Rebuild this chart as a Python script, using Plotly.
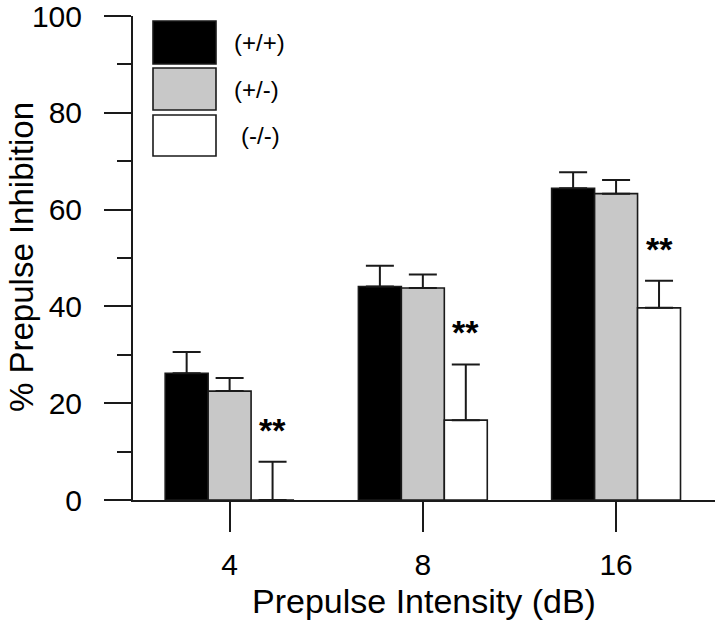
import plotly.graph_objects as go

categories = ["4", "8", "16"]
genotypes = ["(+/+)", "(+/-)", "(-/-)"]
wt_mean = [26.2, 44.1, 64.4]
wt_sem = [4.4, 4.3, 3.3]
het_mean = [22.5, 43.8, 63.3]
het_sem = [2.7, 2.8, 2.8]
ko_mean = [0.0, 16.5, 39.7]
ko_sem = [7.9, 11.5, 5.6]
sig_labels = ["**", "**", "**"]
y_ticks = [0, 20, 40, 60, 80, 100]

FONT = "Liberation Sans, Arial, sans-serif"
colors = ["#000000", "#c8c8c8", "#ffffff"]
means = [wt_mean, het_mean, ko_mean]
sems = [wt_sem, het_sem, ko_sem]

L, T = 133.0, 16.0          # plot area top-left (page px)
R, B = 715.0, 500.0         # plot area bottom-right (page px)
W, H = R - L, B - T

fig = go.Figure()
for name, m, s, c in zip(genotypes, means, sems, colors):
    fig.add_trace(go.Bar(
        x=categories, y=m, name=name,
        marker=dict(color=c, line=dict(color="#1a1a1a", width=1.6)),
        error_y=dict(type="data", array=s, arrayminus=[0] * len(s), symmetric=False,
                     color="#1a1a1a", thickness=2, width=14),
        showlegend=False,
    ))

# significance markers above (-/-) bars
for i, (cat, m, s, lab) in enumerate(zip(categories, ko_mean, ko_sem, sig_labels)):
    fig.add_annotation(x=i + 0.2222, y=m + s, xref="x", yref="y", text="<b>%s</b>" % lab,
                       showarrow=False, yanchor="bottom", yshift=11,
                       font=dict(family=FONT, size=34, color="black"))

def px(xp):
    return (xp - L) / W
def py(yp):
    return (B - yp) / H

# legend drawn as boxes + labels (large swatches like the original)
rows = [(21, 64), (68, 110), (115, 156)]
text_x = [232, 232, 239]
for (y0, y1), c, name, tx in zip(rows, colors, genotypes, text_x):
    fig.add_shape(type="rect", xref="paper", yref="paper",
                  x0=px(153), x1=px(216), y0=py(y1), y1=py(y0),
                  fillcolor=c, line=dict(color="#1a1a1a", width=1.6))
    fig.add_annotation(xref="paper", yref="paper", x=px(tx), y=py((y0 + y1) / 2),
                       xanchor="left", yanchor="middle", text=name, showarrow=False,
                       font=dict(family=FONT, size=24, color="black"))

# axis titles
fig.add_annotation(xref="paper", yref="paper", x=0.5, y=py(601), xanchor="center",
                   yanchor="middle", text="Prepulse Intensity (dB)", showarrow=False,
                   font=dict(family=FONT, size=34, color="black"))
fig.add_annotation(xref="paper", yref="paper", x=px(21), y=py(257), xanchor="center",
                   yanchor="middle", text="% Prepulse Inhibition", textangle=-90,
                   showarrow=False, font=dict(family=FONT, size=33, color="black"))

fig.update_layout(
    width=720, height=626,
    margin=dict(l=L, r=720 - R, t=T, b=626 - B),
    paper_bgcolor="white", plot_bgcolor="white",
    barmode="group", bargap=0.333, bargroupgap=0,
    font=dict(family=FONT, size=30, color="black"),
)
fig.update_xaxes(
    type="category", range=[-0.5, 2.512], automargin=False,
    showline=True, linecolor="#1a1a1a", linewidth=2,
    ticks="outside", ticklen=30, tickwidth=2, tickcolor="#1a1a1a",
    ticklabelstandoff=7,
    tickfont=dict(family=FONT, size=30, color="black"),
    showgrid=False, zeroline=False,
)
fig.update_yaxes(
    range=[0, 100], tickvals=y_ticks, automargin=False,
    showline=True, linecolor="#1a1a1a", linewidth=2,
    ticks="outside", ticklen=27, tickwidth=2, tickcolor="#1a1a1a",
    ticklabelstandoff=16, ticklabeloverflow="allow",
    tickfont=dict(family=FONT, size=30, color="black"),
    minor=dict(dtick=10, tick0=0, ticks="outside", ticklen=14, tickwidth=2,
               tickcolor="#1a1a1a", showgrid=False),
    showgrid=False, zeroline=False,
)

fig.write_html("out.html",
               config={"displayModeBar": False},
               post_script="document.body.style.margin='0';document.body.style.padding='0';")
